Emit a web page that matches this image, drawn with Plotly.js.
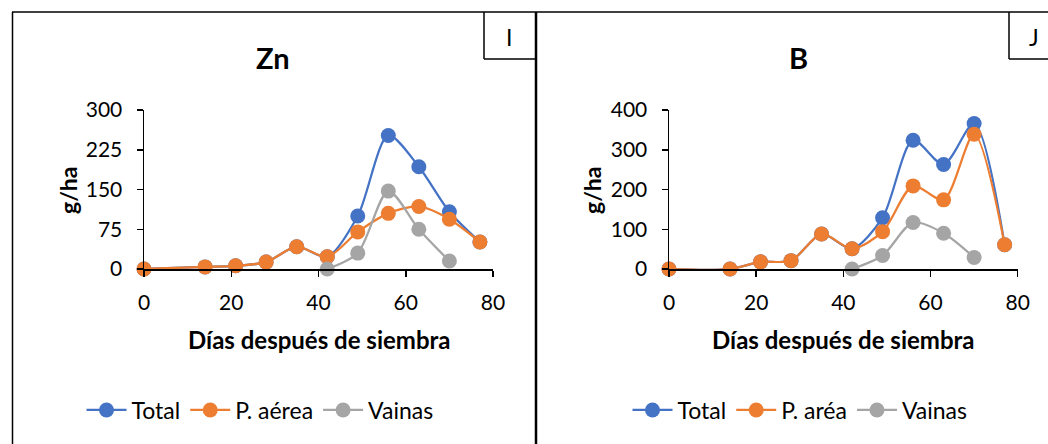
<!DOCTYPE html>
<html>
<head>
<meta charset="utf-8">
<script src="https://cdn.plot.ly/plotly-3.0.1.min.js"></script>
<style>html,body{margin:0;padding:0;background:#fff;}#chart{width:1048px;height:444px;}</style>
</head>
<body>
<div id="chart"></div>
<script>
// ---- data ----
const days = [0, 14, 21, 28, 35, 42, 49, 56, 63, 70, 77];
const vainasDays = [42, 49, 56, 63, 70];

const znTotal  = [0, 4, 6, 13, 42, 23, 100, 252, 193, 108, 51];
const znAerea  = [0, 4, 6, 13, 42, 23, 70, 105, 118, 94, 51];
const znVainas = [0, 30, 147, 75, 15];

const bTotal  = [0, 0, 18, 21, 88, 51, 129, 324, 263, 366, 61];
const bAerea  = [0, 0, 18, 21, 88, 51, 94, 209, 174, 339, 61];
const bVainas = [0, 34, 117, 90, 29];

const titles = ["Zn", "B"];
const panelLabels = ["I", "J"];
const leftNames = ["Total", "P. aérea", "Vainas"];
const rightNames = ["Total", "P. aréa", "Vainas"];
const xTitle = "Días después de siembra";
const yTitle = "g/ha";
const znTicks = [0, 75, 150, 225, 300];
const bTicks = [0, 100, 200, 300, 400];
const xTicks = [0, 20, 40, 60, 80];

// ---- style ----
const W = 1048, H = 444;
const FONT = "Lato, 'Open Sans', sans-serif";
const colors = ["#4472C4", "#ED7D31", "#A5A5A5"];
const px = v => v / W;
const py = v => 1 - v / H;

function tr(x, y, name, c, xa, ya, leg) {
  return {
    x: x, y: y, name: name, type: "scatter", mode: "lines+markers",
    xaxis: xa, yaxis: ya, legend: leg, cliponaxis: false,
    line: {color: colors[c], width: 2.25, shape: "spline", smoothing: 0.8},
    marker: {color: colors[c], size: 15},
    hoverinfo: "skip"
  };
}

const data = [
  tr(days, znTotal, leftNames[0], 0, "x", "y", "legend"),
  tr(days, znAerea, leftNames[1], 1, "x", "y", "legend"),
  tr(vainasDays, znVainas, leftNames[2], 2, "x", "y", "legend"),
  tr(days, bTotal, rightNames[0], 0, "x2", "y2", "legend2"),
  tr(days, bAerea, rightNames[1], 1, "x2", "y2", "legend2"),
  tr(vainasDays, bVainas, rightNames[2], 2, "x2", "y2", "legend2")
];

function xax(d0, d1, anchor) {
  return {
    domain: [px(d0), px(d1)], anchor: anchor, range: [0, 80],
    tickvals: xTicks, ticks: "outside", ticklen: 6, tickwidth: 1.5, tickcolor: "#000",
    showline: true, linecolor: "#000", linewidth: 1.5, showgrid: false, zeroline: false,
    tickfont: {family: FONT, size: 21, color: "#000"}, ticklabelstandoff: 8,
    fixedrange: true
  };
}
function yax(ticks, top, anchor) {
  return {
    domain: [py(269), py(110)], anchor: anchor, range: [0, top],
    tickvals: ticks, ticks: "outside", ticklen: 6, tickwidth: 1.5, tickcolor: "#000",
    showline: true, linecolor: "#000", linewidth: 1.5, showgrid: false, zeroline: false,
    tickfont: {family: FONT, size: 21, color: "#000"}, ticklabelstandoff: 10,
    fixedrange: true
  };
}

const legendBase = {
  orientation: "h", yanchor: "middle", xanchor: "center",
  font: {family: FONT, size: 23, color: "#000"}, bgcolor: "rgba(0,0,0,0)",
  itemwidth: 40, tracegroupgap: 0
};

const ann = (text, x, y, size, bold, rot) => ({
  text: bold ? "<b>" + text + "</b>" : text, x: px(x), y: py(y), xref: "paper", yref: "paper",
  showarrow: false, xanchor: "center", yanchor: "middle", textangle: rot || 0,
  font: {family: FONT, size: size, color: "#000"}
});

const line = (x0, y0, x1, y1, w) => ({
  type: "line", xref: "paper", yref: "paper",
  x0: px(x0), y0: py(y0), x1: px(x1), y1: py(y1),
  line: {color: "#000", width: w}
});

const layout = {
  width: W, height: H, margin: {l: 0, r: 0, t: 0, b: 0},
  paper_bgcolor: "#fff", plot_bgcolor: "rgba(0,0,0,0)",
  xaxis: xax(144, 493, "y"), yaxis: yax(znTicks, 300, "x"),
  xaxis2: xax(669, 1017.7, "y2"), yaxis2: yax(bTicks, 400, "x2"),
  legend: Object.assign({}, legendBase, {x: px(260), y: py(410)}),
  legend2: Object.assign({}, legendBase, {x: px(800), y: py(410)}),
  annotations: [
    ann(titles[0], 273, 57, 29, true),
    ann(titles[1], 798, 57, 29, true),
    ann(panelLabels[0], 509, 37, 23, false),
    ann(panelLabels[1], 1034, 37, 23, false),
    ann(xTitle, 319, 339, 24, true),
    ann(xTitle, 843, 339, 24, true),
    ann(yTitle, 68, 190, 23, true, -90),
    ann(yTitle, 592, 190, 23, true, -90)
  ],
  shapes: [
    line(12, 12, 1048, 12, 1.5),
    line(12.5, 12, 12.5, 450, 1.5),
    line(536, 12, 536, 450, 2.5),
    line(484, 12, 484, 59, 1.5),
    line(484, 59, 536, 59, 1.5),
    line(1009, 12, 1009, 59, 1.5),
    line(1009, 59, 1048, 59, 1.5)
  ],
  showlegend: true
};

Plotly.newPlot("chart", data, layout, {displayModeBar: false, staticPlot: true});
</script>
</body>
</html>
